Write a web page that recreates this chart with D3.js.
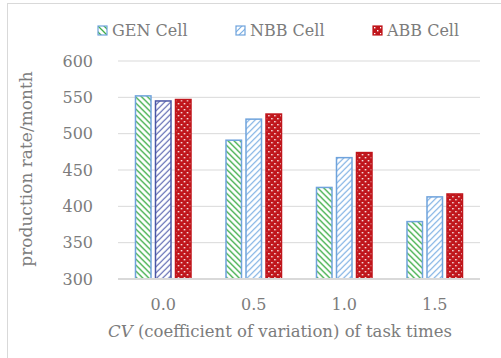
<!DOCTYPE html>
<html>
<head>
<meta charset="utf-8">
<script src="https://cdn.jsdelivr.net/npm/d3@7"></script>
<style>
  body { margin: 0; background: #fff; }
  text { font-family: "DejaVu Serif", "Liberation Serif", serif; fill: #7c7c7c; }
</style>
</head>
<body>
<svg id="chart"></svg>
<script>
const categories = ['0.0', '0.5', '1.0', '1.5'];
const seriesNames = ['GEN Cell', 'NBB Cell', 'ABB Cell'];
const genValues = [552, 491, 426, 379];
const nbbValues = [545, 520, 467, 413];
const abbValues = [547, 527, 474, 417];
const yTicks = [300, 350, 400, 450, 500, 550, 600];

const width = 501, height = 358;
const margin = { top: 61, right: 21, bottom: 79, left: 118 };

const svg = d3.select('#chart')
  .attr('width', width)
  .attr('height', height);

// chart border (runs off the right/bottom edge)
svg.append('rect')
  .attr('x', 7.5).attr('y', 3.5)
  .attr('width', 520).attr('height', 380)
  .attr('fill', 'none')
  .attr('stroke', '#d9d9d9');

const defs = svg.append('defs');

const genPat = defs.append('pattern')
  .attr('id', 'pat-gen').attr('patternUnits', 'userSpaceOnUse')
  .attr('width', 6).attr('height', 6);
genPat.append('rect').attr('width', 6).attr('height', 6).attr('fill', '#fff');
genPat.append('path')
  .attr('d', 'M-1,-1 L7,7 M-4,2 L2,8 M4,-2 L10,4')
  .attr('stroke', '#3fae49').attr('stroke-width', 1.3);

function nbbPattern(id, color) {
  const p = defs.append('pattern')
    .attr('id', id).attr('patternUnits', 'userSpaceOnUse')
    .attr('width', 6).attr('height', 6);
  p.append('rect').attr('width', 6).attr('height', 6).attr('fill', '#fff');
  p.append('path')
    .attr('d', 'M-1,7 L7,-1 M-4,4 L2,-2 M4,8 L10,2')
    .attr('stroke', color).attr('stroke-width', 1.2);
}
nbbPattern('pat-nbb', '#7aaee3');
nbbPattern('pat-nbb-dark', '#5863b0');

const abbPat = defs.append('pattern')
  .attr('id', 'pat-abb').attr('patternUnits', 'userSpaceOnUse')
  .attr('width', 6).attr('height', 6);
abbPat.append('rect').attr('width', 6).attr('height', 6).attr('fill', '#c0161c');
abbPat.append('rect').attr('x', 1).attr('y', 1).attr('width', 1.4).attr('height', 1.4).attr('fill', '#fff');
abbPat.append('rect').attr('x', 4).attr('y', 4).attr('width', 1.4).attr('height', 1.4).attr('fill', '#fff');

const fills = ['url(#pat-gen)', 'url(#pat-nbb)', 'url(#pat-abb)'];
const strokes = ['#6fa3dc', '#6fa3dc', '#c0161c'];

const x0 = d3.scaleBand()
  .domain(categories)
  .range([margin.left, width - margin.right])
  .paddingInner(0.37)
  .paddingOuter(0.185);

const x1 = d3.scaleBand()
  .domain(seriesNames)
  .range([0, x0.bandwidth()])
  .paddingInner(0.15);

const y = d3.scaleLinear()
  .domain([300, 600])
  .range([height - margin.bottom, margin.top]);

// gridlines
svg.append('g')
  .selectAll('line')
  .data(yTicks.filter(d => d > 300))
  .enter()
  .append('line')
  .attr('x1', margin.left)
  .attr('x2', width - margin.right)
  .attr('y1', d => y(d))
  .attr('y2', d => y(d))
  .attr('stroke', '#d9d9d9')
  .attr('stroke-width', 1);

// y tick labels
const yAxis = svg.append('g')
  .attr('transform', `translate(${margin.left - 25},0)`)
  .call(d3.axisLeft(y).tickValues(yTicks).tickSize(0).tickPadding(0));
yAxis.select('.domain').remove();
yAxis.selectAll('text')
  .attr('fill', null)
  .style('font-size', '16px');

// bars
const rows = categories.map((c, i) => ({
  cat: c,
  vals: [genValues[i], nbbValues[i], abbValues[i]]
}));

const groups = svg.append('g')
  .selectAll('g')
  .data(rows)
  .enter()
  .append('g')
  .attr('transform', d => `translate(${x0(d.cat)},0)`);

groups.selectAll('rect')
  .data((d, gi) => d.vals.map((v, si) => ({ v: v, s: si, g: gi })))
  .enter()
  .append('rect')
  .attr('x', d => x1(seriesNames[d.s]) + 0.75)
  .attr('y', d => y(d.v))
  .attr('width', x1.bandwidth() - 1.5)
  .attr('height', d => y(300) - y(d.v))
  .attr('fill', d => (d.g === 0 && d.s === 1) ? 'url(#pat-nbb-dark)' : fills[d.s])
  .attr('stroke', d => (d.g === 0 && d.s === 1) ? '#4a56a6' : strokes[d.s])
  .attr('stroke-width', 1.5);

// baseline
svg.append('line')
  .attr('x1', margin.left)
  .attr('x2', width - margin.right)
  .attr('y1', y(300))
  .attr('y2', y(300))
  .attr('stroke', '#d9d9d9')
  .attr('stroke-width', 2);

// x tick labels
const xAxis = svg.append('g')
  .attr('transform', `translate(0,${y(300) + 20})`)
  .call(d3.axisBottom(x0).tickSize(0).tickPadding(0));
xAxis.select('.domain').remove();
xAxis.selectAll('text')
  .attr('fill', null)
  .style('font-size', '16px');

// axis titles
const xTitle = svg.append('text')
  .attr('x', 280)
  .attr('y', 337)
  .attr('text-anchor', 'middle')
  .style('font-size', '16.5px');
xTitle.append('tspan').style('font-style', 'italic').text('CV');
xTitle.append('tspan').text(' (coefficient of variation) of task times');

svg.append('text')
  .attr('transform', `translate(32,${(margin.top + height - margin.bottom) / 2 - 1}) rotate(-90)`)
  .attr('text-anchor', 'middle')
  .style('font-size', '17px')
  .text('production rate/month');

// legend
const legendX = [98, 236, 373];
const legend = svg.append('g')
  .selectAll('g')
  .data(seriesNames)
  .enter()
  .append('g')
  .attr('transform', (d, i) => `translate(${legendX[i]},26)`);

legend.append('rect')
  .attr('width', 9).attr('height', 9)
  .attr('fill', (d, i) => fills[i])
  .attr('stroke', (d, i) => strokes[i])
  .attr('stroke-width', 1.2);

legend.append('text')
  .attr('x', 14)
  .attr('y', 10)
  .style('font-size', '16px')
  .text(d => d);
</script>
</body>
</html>
